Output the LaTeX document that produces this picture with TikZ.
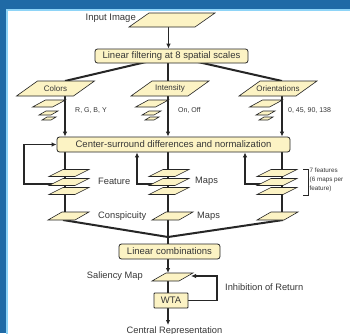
\documentclass[tikz,border=0pt]{standalone}
\usepackage{fontspec}
\setmainfont{Liberation Sans}
\usetikzlibrary{arrows.meta,calc}
\definecolor{frameblue}{HTML}{1F6AA6}
\definecolor{framelight}{HTML}{8ED4F7}
\definecolor{paper}{HTML}{FCF3C4}
\definecolor{ink}{HTML}{262626}
\definecolor{txt}{HTML}{363636}
\pgfdeclarelayer{bg}
\pgfsetlayers{bg,main}
\tikzset{
  conn/.style={draw=ink,line width=1.5pt},
  fan/.style={draw=ink,line width=2pt},
  arr/.style={conn,-{Latex[length=5pt,width=4.5pt]}},
  box/.style={draw=ink,fill=paper,line width=0.8pt,rounded corners=2.5pt,inner sep=0pt,
    font=\fontsize{9.5}{11}\selectfont,text=txt},
  pgshape/.style={draw=ink,fill=paper,line width=0.6pt},
  pics/para/.style n args={3}{code={
    \path[pgshape] (-#1/2-#3/2,#2/2) -- (#1/2-#3/2,#2/2) -- (#1/2+#3/2,-#2/2) -- (-#1/2+#3/2,-#2/2) -- cycle;}},
  lbl/.style={text=txt,inner sep=0pt,font=\fontsize{9.3}{10}\selectfont},
  plbl/.style={text=txt,inner sep=0pt,font=\fontsize{8}{9}\selectfont},
  small/.style={text=txt,inner sep=0pt,font=\fontsize{7}{8}\selectfont},
  tiny/.style={text=txt,inner sep=0pt,font=\fontsize{6.3}{9}\selectfont,align=left},
}
\begin{document}
\begin{tikzpicture}[x=1pt,y=-1pt]
\useasboundingbox (0,0) rectangle (350,333);
\clip (0,0) rectangle (350,333);

% ---------- named positions ----------
\coordinate (inimg) at (172,20);
\coordinate (inB) at (168.5,27);
\coordinate (colors) at (55.5,88.5);
\coordinate (intens) at (170,88.5);
\coordinate (orient) at (278,88.5);
\coordinate (lA) at (65,88.5);
\coordinate (lB) at (168,88.5);
\coordinate (lC) at (282,88.5);
\coordinate (tA) at (65,81);
\coordinate (tB) at (168,81);
\coordinate (tC) at (282,81);
\coordinate (fsA) at (69,182);
\coordinate (fsB) at (169,182);
\coordinate (fsC) at (277,182);
\coordinate (cmA) at (68.5,216);
\coordinate (cmB) at (172.5,216);
\coordinate (cmC) at (277.5,216);
\coordinate (cbA) at (63,220);
\coordinate (cbC) at (283,220);
\coordinate (junc) at (168,237);
\coordinate (sal) at (172.5,277);
\coordinate (salT) at (168,273);
\coordinate (salC) at (168,277);
\coordinate (salR) at (191,276);
\coordinate (iorC) at (217,276);
\coordinate (outC) at (168,325);
\coordinate (fbA0) at (60,184);
\coordinate (fbA) at (24,184);
\coordinate (fbB0) at (160,184);
\coordinate (fbB) at (137,184);
\coordinate (fbC0) at (268,184);
\coordinate (fbC) at (245,184);

% ---------- boxes ----------
\node[box,minimum width=153pt,minimum height=14pt] (filter) at (171.5,56) {Linear filtering at 8 spatial scales};
\node[box,minimum width=233pt,minimum height=15pt] (cs) at (173.5,144.5) {Center-surround differences and normalization};
\node[box,minimum width=101pt,minimum height=15pt] (lin) at (169.5,251.5) {Linear combinations};
\node[box,rounded corners=0.8pt,minimum width=34pt,minimum height=15pt] (wta) at (171,300.5) {WTA};

% ---------- background: frame and connectors ----------
\begin{pgfonlayer}{bg}
\fill[frameblue] (0,0) rectangle (350,333);
\fill[framelight] (6,8.5) rectangle (360,343);
\fill[white] (8,10.5) rectangle (360,343);

\draw[arr] (inB) -- (inB |- filter.north);
\draw[fan] (filter.center) -- (tA);
\draw[fan] (filter.center -| tB) -- (tB);
\draw[fan] (filter.center) -- (tC);
\draw[arr] (lA) -- (lA |- cs.north);
\draw[arr] (lB) -- (lB |- cs.north);
\draw[arr] (lC) -- (lC |- cs.north);
\draw[conn] (lA |- cs.south) -- (lA |- cmA);
\draw[conn] (lB |- cs.south) -- (lB |- lin.north);
\draw[conn] (lC |- cs.south) -- (lC |- cmC);
\draw[arr] (fbA0) -- (fbA) |- (cs.west);
\draw[arr] (fbB0) -- (fbB) -- (fbB |- cs.south);
\draw[arr] (fbC0) -- (fbC) -- (fbC |- cs.south);
\draw[fan] (cbA) -- (junc);
\draw[fan] (cbC) -- (junc);
\draw[arr] (salT |- lin.south) -- (salT);
\draw[conn] (salC) -- (salC |- wta.north);
\draw[arr] (wta.east) -| (iorC) -- (salR);
\draw[arr] (outC |- wta.south) -- (outC);
\end{pgfonlayer}

% ---------- parallelograms ----------
\pic at (inimg) {para={66}{14}{20}};
\pic at (colors) {para={57}{15}{21}};
\pic at (intens) {para={57}{15}{21}};
\pic at (orient) {para={57}{15}{21}};
\foreach \cx in {49,152,266}{
  \pic at (\cx,103.5) {para={20}{7}{13}};
  \pic at (\cx-0.5,113) {para={12}{4}{7}};
  \pic at (\cx,118.5) {para={9}{3}{5}};
}
\foreach \cx in {69,169,277}{
  \pic at (\cx,173) {para={26}{7}{14}};
  \pic at (\cx,182) {para={26}{7}{14}};
  \pic at (\cx,191) {para={26}{7}{14}};
}
\pic at (cmA) {para={27}{8}{14}};
\pic at (cmB) {para={27}{8}{14}};
\pic at (cmC) {para={27}{8}{14}};
\pic at (sal) {para={27}{8}{14}};

% ---------- labels ----------
\node[lbl,anchor=east,font=\fontsize{9.5}{10}\selectfont] (inlbl) at (136,18) {Input Image};
\node[plbl] (collbl) at (colors) {Colors};
\node[plbl] (intlbl) at (intens) {Intensity};
\node[plbl] (orilbl) at (orient) {Orientations};
\node[small,anchor=west] (rgby) at (75,110) {R, G, B, Y};
\node[small,anchor=west] (onoff) at (178,110) {On, Off};
\node[small,anchor=west] (angles) at (288,110) {0, 45, 90, 138};
\node[lbl,anchor=west] (featlbl) at (98,181.5) {Feature};
\node[lbl,anchor=west] (maps1) at (195,181.5) {Maps};
\node[lbl,anchor=west] (conslbl) at (98,216) {Conspicuity};
\node[lbl,anchor=west] (maps2) at (197,216) {Maps};
\draw[ink,line width=0.6pt] (303,169) -- (308,169) -- (308,195) -- (303,195);
\node[tiny,anchor=north west] (seven) at (309.5,167.5) {7 features\\(6 maps per\\feature)};
\node[lbl,anchor=east] (sallbl) at (143,276) {Saliency Map};
\node[lbl,anchor=west] (iorlbl) at (225,287) {Inhibition of Return};
\node[lbl] (central) at (174.5,331.5) {Central Representation};
\end{tikzpicture}
\end{document}
